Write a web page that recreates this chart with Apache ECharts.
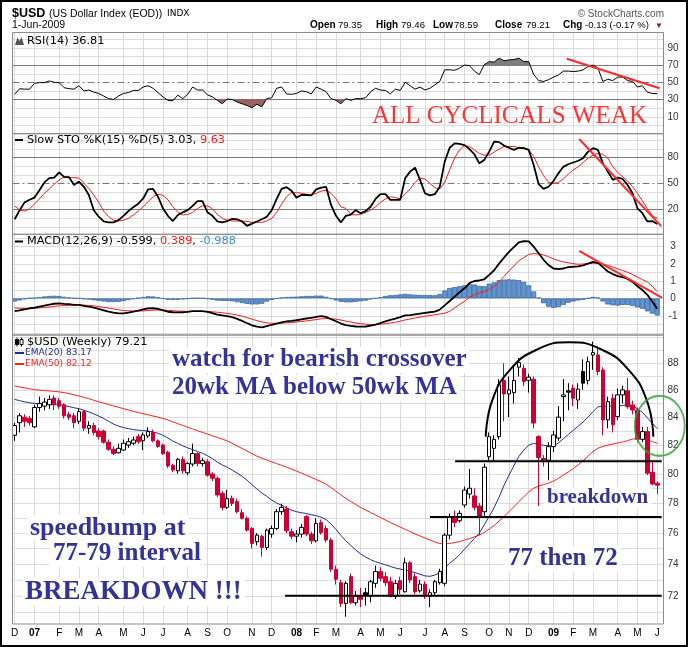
<!DOCTYPE html>
<html>
<head>
<meta charset="utf-8">
<title>$USD weekly</title>
<script src="https://cdn.jsdelivr.net/npm/echarts@6/dist/echarts.min.js"></script>
<style>
html, body { margin: 0; padding: 0; background: #fff; }
#chart { width: 688px; height: 647px; }
</style>
</head>
<body>
<div id="chart"></div>
<script>
// weekly bars: first is the week of 4-Dec-2006, last the week of 1-Jun-2009
var firstMonday = Date.UTC(2006, 11, 4);
var weekCount = 131;

var weekOpen = [
    82.70, 83.60, 84.00, 83.90, 83.30, 84.70, 84.80, 84.90, 85.40, 85.20,
    84.90, 84.20, 84.10, 83.70, 84.40, 83.20, 83.40, 83.00, 83.00, 82.20,
    81.70, 81.46, 81.65, 82.00, 82.13, 82.60, 82.31, 82.65, 82.90, 82.30,
    82.00, 81.50, 80.59, 80.20, 81.00, 80.06, 80.67, 81.40, 80.70, 80.83,
    79.98, 79.68, 78.65, 77.71, 78.32, 78.10, 77.35, 76.98, 76.31, 75.44,
    75.80, 75.07, 75.94, 76.31, 77.42, 77.60, 76.09, 75.80, 75.94, 77.09,
    75.94, 75.50, 76.70, 76.31, 75.55, 73.67, 72.82, 71.53, 73.20, 71.57,
    71.94, 72.19, 71.98, 72.78, 73.52, 73.20, 72.88, 71.98, 72.94, 72.25,
    74.08, 73.20, 72.31, 72.73, 71.98, 72.19, 72.82, 72.78, 75.87, 77.10,
    76.82, 77.87, 78.61, 78.48, 77.80, 77.42, 81.18, 81.77, 82.60, 86.71,
    85.70, 85.80, 87.70, 87.62, 86.71, 86.80, 82.60, 81.06, 80.94, 81.89,
    82.50, 85.50, 85.93, 86.13, 85.25, 87.37, 86.71, 88.63, 88.63, 87.49,
    83.80, 85.38, 84.04, 85.63, 85.93, 84.88, 84.52, 82.41, 82.96, 80.10,
    79.35
];
var weekClose = [
    83.40, 84.10, 83.70, 83.60, 84.70, 85.00, 85.10, 85.30, 84.90, 84.80,
    84.10, 84.00, 83.60, 84.40, 83.20, 83.40, 82.90, 82.60, 82.20, 81.70,
    81.40, 81.77, 82.13, 82.24, 82.36, 82.24, 82.72, 82.96, 82.30, 81.90,
    81.40, 80.53, 80.25, 81.00, 80.20, 80.70, 81.40, 80.70, 80.90, 79.90,
    79.68, 78.55, 77.70, 78.30, 77.98, 77.42, 76.98, 76.20, 75.33, 75.87,
    75.07, 76.20, 76.31, 77.42, 77.71, 76.16, 75.80, 75.94, 76.38, 75.94,
    75.50, 76.64, 76.03, 75.55, 73.67, 73.03, 71.53, 72.78, 71.57, 71.98,
    71.78, 72.04, 72.88, 73.52, 73.10, 72.82, 71.98, 72.78, 72.40, 74.08,
    72.99, 72.25, 72.73, 71.98, 72.19, 72.88, 73.52, 75.87, 77.09, 76.70,
    77.31, 78.88, 79.00, 77.71, 77.09, 80.45, 82.60, 82.41, 86.38, 85.70,
    86.00, 86.71, 88.05, 86.63, 86.95, 83.57, 81.13, 80.94, 81.89, 82.72,
    84.00, 85.63, 85.83, 85.38, 86.05, 86.50, 88.12, 88.81, 87.37, 83.80,
    85.13, 83.45, 85.63, 86.00, 84.76, 84.52, 82.41, 82.96, 80.03, 79.29,
    79.21
];
var weekLow = [
    82.30, 82.90, 83.30, 83.40, 83.20, 84.40, 84.50, 84.60, 84.50, 84.60,
    83.90, 83.80, 83.20, 83.50, 83.00, 82.80, 82.70, 82.40, 82.10, 81.60,
    81.30, 81.40, 81.60, 81.80, 82.00, 82.10, 81.65, 82.50, 82.20, 81.80,
    81.30, 80.40, 80.10, 80.00, 80.00, 79.90, 80.50, 80.50, 80.50, 79.80,
    79.50, 78.40, 77.50, 77.60, 77.80, 77.30, 76.90, 76.10, 75.00, 75.20,
    74.47, 74.90, 75.70, 76.20, 77.20, 76.00, 75.60, 75.40, 75.70, 75.80,
    75.30, 75.40, 75.90, 75.40, 73.50, 72.70, 71.30, 70.71, 71.50, 71.40,
    71.30, 71.40, 71.60, 72.50, 72.90, 72.60, 71.90, 71.80, 72.10, 72.20,
    72.80, 72.10, 72.20, 71.80, 71.30, 72.00, 72.70, 72.60, 75.60, 76.40,
    76.70, 77.70, 78.30, 77.50, 75.87, 77.00, 80.80, 80.83, 82.40, 83.70,
    84.00, 85.00, 87.00, 86.30, 85.80, 83.20, 77.80, 80.50, 79.55, 81.50,
    82.30, 83.70, 84.50, 84.80, 84.60, 86.00, 86.40, 87.50, 87.10, 82.70,
    83.20, 82.90, 83.80, 85.00, 84.60, 84.20, 82.20, 82.20, 79.90, 79.20,
    78.59
];
var weekHigh = [
    83.60, 84.30, 84.20, 84.10, 84.90, 85.50, 85.40, 85.60, 85.60, 85.40,
    85.00, 84.40, 84.30, 84.60, 84.50, 83.70, 83.60, 83.20, 83.10, 82.40,
    81.90, 82.10, 82.40, 82.50, 82.60, 82.80, 82.90, 83.27, 83.10, 82.40,
    82.10, 81.60, 80.70, 81.10, 81.20, 80.80, 82.10, 81.50, 81.10, 81.00,
    80.10, 79.80, 78.80, 78.90, 78.50, 78.30, 77.60, 77.10, 76.40, 76.00,
    75.90, 76.30, 76.50, 77.60, 77.95, 77.80, 76.30, 76.20, 76.60, 77.20,
    76.10, 76.98, 76.90, 76.50, 75.70, 73.90, 73.00, 72.90, 73.40, 72.30,
    72.50, 72.50, 73.00, 73.90, 73.80, 73.50, 73.20, 73.00, 73.20, 74.40,
    74.20, 73.40, 73.00, 72.90, 72.40, 73.00, 73.70, 76.00, 77.30, 77.50,
    77.50, 79.11, 80.33, 79.00, 78.00, 80.70, 82.90, 82.70, 86.80, 88.00,
    87.00, 87.80, 88.40, 87.90, 87.20, 87.00, 82.70, 81.30, 82.20, 83.00,
    84.80, 86.80, 86.50, 86.40, 86.50, 88.30, 88.50, 89.66, 89.30, 87.70,
    85.50, 85.70, 86.10, 86.30, 86.90, 85.20, 84.70, 83.30, 83.30, 80.83,
    79.46
];
// filled black bodies (down on the week's open but up on the prior close)
var blackCandles = [71, 112, 115];

var ema20 = [
    85.30, 85.20, 85.12, 85.05, 85.00, 84.98, 84.97, 84.96, 84.95, 84.92,
    84.85, 84.77, 84.68, 84.62, 84.50, 84.38, 84.24, 84.08, 83.90, 83.70,
    83.50, 83.35, 83.25, 83.17, 83.10, 83.06, 83.03, 83.00, 82.93, 82.84,
    82.70, 82.50, 82.28, 82.12, 81.95, 81.80, 81.68, 81.55, 81.42, 81.25,
    81.05, 80.80, 80.60, 80.45, 80.25, 80.05, 79.82, 79.55, 79.25, 78.95,
    78.68, 78.45, 78.20, 78.00, 77.85, 77.68, 77.52, 77.42, 77.35, 77.30,
    77.22, 77.15, 77.05, 76.90, 76.60, 76.25, 75.85, 75.50, 75.20, 74.90,
    74.65, 74.45, 74.28, 74.15, 74.05, 73.95, 73.85, 73.75, 73.68, 73.62,
    73.55, 73.45, 73.35, 73.25, 73.22, 73.30, 73.45, 73.75, 74.05, 74.30,
    74.60, 74.95, 75.30, 75.65, 76.00, 76.55, 77.10, 77.70, 78.40, 79.20,
    79.90, 80.55, 81.20, 81.65, 82.00, 82.12, 82.05, 81.98, 81.95, 81.95,
    82.15, 82.45, 82.75, 83.05, 83.35, 83.65, 84.00, 84.40, 84.75, 84.80,
    84.80, 84.80, 84.82, 84.85, 84.90, 84.85, 84.60, 84.35, 83.95, 83.55,
    83.17
];
var ema50 = [
    86.30, 86.22, 86.15, 86.08, 86.02, 85.98, 85.95, 85.92, 85.89, 85.85,
    85.80, 85.72, 85.63, 85.55, 85.45, 85.35, 85.23, 85.12, 85.02, 84.92,
    84.82, 84.72, 84.62, 84.52, 84.42, 84.34, 84.25, 84.17, 84.08, 84.00,
    83.90, 83.80, 83.66, 83.53, 83.40, 83.27, 83.15, 83.02, 82.90, 82.78,
    82.66, 82.54, 82.42, 82.30, 82.12, 81.94, 81.76, 81.58, 81.40, 81.22,
    81.08, 80.95, 80.82, 80.70, 80.58, 80.45, 80.32, 80.18, 80.04, 79.90,
    79.75, 79.60, 79.45, 79.28, 79.05, 78.80, 78.55, 78.32, 78.10, 77.90,
    77.70, 77.53, 77.36, 77.20, 77.03, 76.87, 76.70, 76.55, 76.40, 76.25,
    76.10, 75.95, 75.82, 75.68, 75.55, 75.42, 75.32, 75.30, 75.33, 75.38,
    75.45, 75.55, 75.65, 75.75, 75.87, 76.05, 76.28, 76.50, 76.80, 77.10,
    77.42, 77.75, 78.10, 78.43, 78.75, 79.00, 79.15, 79.25, 79.35, 79.50,
    79.68, 79.90, 80.12, 80.35, 80.62, 80.90, 81.22, 81.55, 81.78, 81.90,
    82.00, 82.07, 82.15, 82.22, 82.32, 82.42, 82.48, 82.45, 82.38, 82.25,
    82.12
];
var rsi14 = [
    36, 42.5, 42, 42, 48.8, 49.6, 49.6, 51.5, 50, 49.6,
    43.7, 42.5, 42, 46, 40, 41, 38.6, 37, 34, 31,
    30, 34, 37, 38, 40.5, 40.5, 44.5, 46, 43, 38,
    33, 29, 28.5, 35, 31, 36, 44.5, 41, 41, 35.5,
    33, 29, 25, 30.5, 30, 27, 25, 23, 20.5, 24.5,
    21.5, 31, 32, 43, 44.5, 36.5, 36, 37, 40, 39,
    36.5, 44.5, 42, 39, 31, 29, 25, 31, 29, 31,
    31, 32, 39, 43, 41, 40.5, 36.5, 42, 40.5, 50,
    46, 42, 44.5, 41, 43, 47, 51, 64.5, 64.5, 64,
    66.5, 70, 69.5, 63, 59, 70.5, 74, 73.5, 78, 75,
    76, 76.5, 78, 74, 74, 59, 52, 51, 53, 56,
    58.5, 63, 63, 62.5, 63, 64.5, 68.5, 70, 66.5, 51,
    53.5, 52, 56, 56, 52, 51, 44.5, 46, 38.5, 37,
    36.81
];
var stoK = [
    8.5, 19, 28, 31, 33.5, 42, 51, 56, 56.5, 62.5,
    57.5, 57, 48, 52, 46, 36.5, 19, 11.5, 6, 5,
    5, 7.5, 12.5, 18, 22.5, 26.5, 32.5, 43, 43.5, 34.5,
    21, 12.5, 6.5, 13.5, 16.5, 19, 24, 29.5, 29.5, 16.5,
    12.5, 6, 5, 6.5, 9, 8.5, 6, 1, 3.5, 6,
    8.5, 11.5, 19, 32, 43.5, 45.5, 41.5, 33.5, 36.5, 36.5,
    36, 43, 45, 46, 25, 12.5, 5, 12.5, 14, 19,
    15.5, 18, 23, 32, 37.5, 37.5, 31, 31, 31, 56,
    63.5, 68, 54, 38.5, 36, 37.5, 46, 75, 91, 96,
    95.5, 94, 89.5, 83.5, 73, 77, 86.5, 98, 97.5, 93.5,
    91, 88.5, 91, 90.5, 88.5, 71, 49, 43.5, 46, 52.5,
    61.5, 69, 72, 74, 76, 79, 86.5, 90.5, 88.5, 73,
    63.5, 54, 56.5, 55, 48, 38.5, 21, 15.5, 6, 6.5,
    3.03
];
var stoD = [
    24, 19, 18, 20.5, 26, 32, 38.5, 43.5, 49, 54,
    57.5, 56.5, 56.5, 56, 50, 44, 36.5, 28, 18, 11.5,
    7.5, 6.5, 7.5, 9.5, 13.5, 18, 23, 29, 34.5, 37.5,
    36, 31, 23, 16.5, 13.5, 14, 16.5, 21, 24, 24,
    20.5, 14, 9.5, 7.5, 6.5, 6.5, 6.5, 6, 5, 5,
    5, 6.5, 9.5, 16.5, 26, 34.5, 39.5, 39.5, 38.5, 37.5,
    36.5, 38.5, 41, 42, 38.5, 32, 23, 21, 14, 13.5,
    14, 16.5, 19, 23, 28, 32, 34.5, 33.5, 32, 37.5,
    43.5, 51, 56, 55, 50, 45, 43.5, 51, 65.5, 79,
    88.5, 93.5, 92.5, 88.5, 84.5, 82.5, 82.5, 86, 89.5, 92.5,
    92.5, 92.5, 91, 90.5, 88.5, 81, 69, 59, 51, 50,
    51, 55, 60.5, 65.5, 69, 74, 79, 82.5, 84.5, 83.5,
    79, 69, 62.5, 57.5, 52.5, 46, 38.5, 29.5, 21, 12.5,
    9.63
];
var macdLine = [
    -0.73, -0.69, -0.63, -0.57, -0.54, -0.48, -0.42, -0.36, -0.31, -0.29,
    -0.32, -0.34, -0.37, -0.38, -0.43, -0.48, -0.54, -0.61, -0.69, -0.77,
    -0.82, -0.86, -0.86, -0.82, -0.77, -0.71, -0.64, -0.58, -0.57, -0.61,
    -0.69, -0.77, -0.80, -0.81, -0.80, -0.78, -0.74, -0.73, -0.74, -0.78,
    -0.85, -0.93, -0.98, -1.02, -1.08, -1.18, -1.30, -1.43, -1.55, -1.63,
    -1.67, -1.60, -1.52, -1.45, -1.38, -1.33, -1.30, -1.26, -1.21, -1.16,
    -1.12, -1.06, -1.02, -1.07, -1.20, -1.32, -1.45, -1.54, -1.59, -1.62,
    -1.63, -1.62, -1.57, -1.51, -1.42, -1.32, -1.24, -1.17, -1.08, -0.98,
    -0.96, -0.92, -0.88, -0.84, -0.80, -0.76, -0.65, -0.40, -0.15, 0.10,
    0.35, 0.58, 0.88, 1.00, 1.03, 1.10, 1.35, 1.62, 2.00, 2.35,
    2.68, 2.95, 3.22, 3.30, 3.28, 2.98, 2.60, 2.22, 1.92, 1.72,
    1.68, 1.72, 1.80, 1.82, 1.84, 1.90, 2.00, 2.10, 2.05, 1.80,
    1.55, 1.40, 1.28, 1.22, 1.12, 0.95, 0.70, 0.48, 0.20, -0.18,
    -0.599
];
var macdSignal = [
    -0.55, -0.57, -0.58, -0.58, -0.57, -0.55, -0.53, -0.50, -0.46, -0.43,
    -0.41, -0.39, -0.38, -0.38, -0.39, -0.41, -0.43, -0.47, -0.51, -0.56,
    -0.61, -0.66, -0.70, -0.72, -0.73, -0.73, -0.72, -0.70, -0.68, -0.67,
    -0.67, -0.69, -0.71, -0.73, -0.74, -0.75, -0.75, -0.75, -0.75, -0.75,
    -0.77, -0.80, -0.83, -0.87, -0.91, -0.96, -1.03, -1.11, -1.20, -1.28,
    -1.36, -1.41, -1.43, -1.44, -1.43, -1.41, -1.39, -1.36, -1.33, -1.30,
    -1.26, -1.22, -1.18, -1.16, -1.17, -1.20, -1.25, -1.31, -1.36, -1.42,
    -1.46, -1.49, -1.51, -1.51, -1.49, -1.46, -1.42, -1.37, -1.31, -1.24,
    -1.19, -1.13, -1.08, -1.03, -0.99, -0.94, -0.90, -0.85, -0.75, -0.55,
    -0.35, -0.17, 0.06, 0.20, 0.31, 0.40, 0.50, 0.70, 0.95, 1.27,
    1.58, 1.87, 2.17, 2.35, 2.53, 2.58, 2.55, 2.50, 2.40, 2.27,
    2.18, 2.10, 2.05, 2.00, 1.96, 1.98, 2.00, 2.02, 2.01, 1.98,
    1.90, 1.80, 1.70, 1.60, 1.50, 1.38, 1.22, 1.08, 0.95, 0.70,
    0.389
];
var macdHist = [
    -0.18, -0.12, -0.05, 0.01, 0.03, 0.07, 0.11, 0.14, 0.15, 0.14,
    0.09, 0.05, 0.01, 0.00, -0.04, -0.07, -0.11, -0.14, -0.18, -0.21,
    -0.21, -0.20, -0.16, -0.10, -0.04, 0.02, 0.08, 0.12, 0.11, 0.06,
    -0.02, -0.08, -0.09, -0.08, -0.06, -0.03, 0.01, 0.02, 0.01, -0.03,
    -0.08, -0.13, -0.15, -0.15, -0.17, -0.22, -0.27, -0.32, -0.35, -0.35,
    -0.31, -0.19, -0.09, -0.01, 0.05, 0.08, 0.09, 0.10, 0.12, 0.14,
    0.14, 0.16, 0.16, 0.09, -0.03, -0.12, -0.20, -0.23, -0.23, -0.20,
    -0.17, -0.13, -0.06, 0.00, 0.07, 0.14, 0.18, 0.20, 0.23, 0.26,
    0.23, 0.21, 0.20, 0.19, 0.19, 0.18, 0.25, 0.45, 0.60, 0.65,
    0.70, 0.75, 0.82, 0.80, 0.72, 0.70, 0.85, 0.92, 1.05, 1.08,
    1.10, 1.08, 1.05, 0.95, 0.75, 0.40, 0.05, -0.28, -0.48, -0.55,
    -0.50, -0.38, -0.25, -0.18, -0.12, -0.08, 0.00, 0.08, 0.04, -0.18,
    -0.35, -0.40, -0.42, -0.38, -0.38, -0.43, -0.52, -0.60, -0.75, -0.88,
    -0.988
];

// horizontal levels per panel
var rsiLevels = [0, 10, 20, 30, 40, 50, 60, 70, 80, 90, 100];
var rsiLabels = [10, 30, 50, 70, 90];
var stoLevels = [0, 10, 20, 30, 40, 50, 60, 70, 80, 90, 100];
var stoLabels = [20, 50, 80];
var macdLevels = [-2, -1.5, -1, -0.5, 0, 0.5, 1, 1.5, 2, 2.5, 3, 3.5];
var macdLabels = [-1, 0, 1, 2, 3];
var priceLevels = [71, 72, 73, 74, 75, 76, 77, 78, 79, 80, 81, 82, 83, 84, 85, 86, 87, 88, 89, 90];
var priceLabels = [72, 74, 76, 78, 80, 82, 84, 86, 88];

// hand-drawn notes, in week index / value units
var supportLines = [[80.87, 89.1, 130.9], [77.06, 84.0, 130.9], [72.0, 54.7, 130.9]];
var topArc = [[95.3, 82.6], [96.6, 85.2], [100.2, 87.5], [105.7, 89.05], [112.2, 89.6],
              [118.7, 89.05], [124.2, 87.5], [127.9, 85.2], [129.2, 82.6]];
var crossCircle = [130.5, 83.37];
var rsiTrend = [[111.7, 77.4], [130.5, 43.0]];
var stoTrend = [[114.2, 101.1], [130.8, 0.7]];
var macdTrend = [[114.2, 2.74], [131.0, 0.03]];

// week categories (plus one empty slot at the right edge)
var slotCount = weekCount + 1;
var weeks = [];
var monthStart = [];
for (var i = 0; i < slotCount; i++) {
    var d = new Date(firstMonday + i * 7 * 86400000);
    weeks.push(d.toISOString().slice(0, 10));
    monthStart.push(i < weekCount && d.getUTCDate() <= 7);
}
var monthLetters = ['J', 'F', 'M', 'A', 'M', 'J', 'J', 'A', 'S', 'O', 'N', 'D'];

var frameLeft = 12.5, frameRight = 663.5;
var panels = [
    {top: 32.5, bottom: 133.7, min: -9.8, max: 107.9},
    {top: 133.7, bottom: 234.3, min: -8.8, max: 107.2},
    {top: 234.3, bottom: 335, min: -2.11, max: 3.69},
    {top: 335, bottom: 624, min: 70.27, max: 90.17}
];

var grids = panels.map(function (p) {
    return {left: 14.7, right: 688 - 662.2, top: p.top, height: p.bottom - p.top, show: false};
});

function catAxis(g) {
    return {
        type: 'category', gridIndex: g, data: weeks, boundaryGap: false,
        axisLine: {show: false}, axisTick: {show: false},
        splitLine: {
            show: true,
            interval: function (idx) { return monthStart[idx]; },
            lineStyle: {color: '#dadada', width: 1}
        },
        axisLabel: g === 3 ? {
            show: true,
            interval: function (idx) { return monthStart[idx]; },
            formatter: function (val) {
                var m = parseInt(val.slice(5, 7), 10) - 1;
                return m === 0 ? '{y|' + val.slice(2, 4) + '}' : monthLetters[m];
            },
            color: '#000', fontSize: 10, fontFamily: 'Liberation Sans', margin: 4,
            rich: {y: {fontWeight: 'bold', fontSize: 10, fontFamily: 'Liberation Sans', color: '#000'}}
        } : {show: false}
    };
}

var xAxes = [0, 1, 2, 3].map(catAxis).concat([0, 1, 2, 3].map(function (g) {
    return {type: 'value', gridIndex: g, min: 0, max: slotCount - 1, show: false};
}));

var yAxes = panels.map(function (p, g) {
    return {
        type: g === 3 ? 'log' : 'value', gridIndex: g, min: p.min, max: p.max,
        show: false, splitLine: {show: false}
    };
});

// gridlines and right-hand labels for one panel
function levelSeries(g, levels, labels, guides, dashLevel) {
    return {
        type: 'custom', xAxisIndex: 4 + g, yAxisIndex: g, z: 1, silent: true,
        data: levels.map(function (v) { return [0, v]; }),
        renderItem: function (params, api) {
            var v = api.value(1);
            var y = Math.round(api.coord([0, v])[1]) + 0.5;
            var stroke = '#dcdcdc', dash = null;
            if (guides.indexOf(v) >= 0) stroke = '#7a7a7a';
            if (v === dashLevel) { stroke = '#7a7a7a'; dash = [7, 3, 2, 3]; }
            var kids = [{
                type: 'line',
                shape: {x1: frameLeft, y1: y, x2: frameRight, y2: y},
                style: {stroke: stroke, lineWidth: 1, lineDash: dash}
            }];
            if (labels.indexOf(v) >= 0) {
                kids.push({
                    type: 'text', x: 673, y: y,
                    style: {text: String(v), fill: '#333', font: '10px "Liberation Sans"',
                            align: 'center', verticalAlign: 'middle'}
                });
            }
            return {type: 'group', children: kids};
        }
    };
}

function noteLine(g, pts, color, width, smooth) {
    return {
        type: 'line', xAxisIndex: 4 + g, yAxisIndex: g, data: pts, symbol: 'none',
        smooth: smooth || false, silent: true, z: 6,
        lineStyle: {color: color, width: width}
    };
}

var candleData = weekOpen.map(function (o, i) {
    var item = {value: [o, weekClose[i], weekLow[i], weekHigh[i]]};
    if (blackCandles.indexOf(i) >= 0) {
        item.itemStyle = {color: '#000', color0: '#000', borderColor: '#000', borderColor0: '#000'};
    }
    return item;
});

var series = [];
series.push(levelSeries(0, rsiLevels, rsiLabels, [30, 70], 50));
series.push(levelSeries(1, stoLevels, stoLabels, [20, 80], 50));
series.push(levelSeries(2, macdLevels, macdLabels, [], null));
series.push(levelSeries(3, priceLevels, priceLabels, [], null));

var rsiFillIndex = series.length;
series.push({
    type: 'line', xAxisIndex: 0, yAxisIndex: 0, data: rsi14, symbol: 'none', silent: true, z: 2,
    lineStyle: {width: 0, opacity: 0}, areaStyle: {origin: 50, opacity: 1}
});
series.push({
    type: 'line', xAxisIndex: 0, yAxisIndex: 0, data: rsi14, symbol: 'none', z: 4,
    lineStyle: {color: '#000', width: 1}
});
series.push(noteLine(0, rsiTrend, '#ff2a2a', 2));

series.push({
    type: 'line', xAxisIndex: 1, yAxisIndex: 1, data: stoD, symbol: 'none', z: 3,
    lineStyle: {color: '#ff1a1a', width: 1}
});
series.push({
    type: 'line', xAxisIndex: 1, yAxisIndex: 1, data: stoK, symbol: 'none', z: 4,
    lineStyle: {color: '#000', width: 1.8}
});
series.push(noteLine(1, stoTrend, '#ff2a2a', 2));

series.push({
    type: 'bar', xAxisIndex: 2, yAxisIndex: 2, data: macdHist, barWidth: 5, z: 2,
    itemStyle: {color: '#6494cf', borderColor: '#3a68a0', borderWidth: 0.8}
});
series.push({
    type: 'line', xAxisIndex: 2, yAxisIndex: 2, data: macdSignal, symbol: 'none', z: 3,
    lineStyle: {color: '#ff1a1a', width: 1}
});
series.push({
    type: 'line', xAxisIndex: 2, yAxisIndex: 2, data: macdLine, symbol: 'none', z: 4,
    lineStyle: {color: '#000', width: 1.8}
});
series.push(noteLine(2, macdTrend, '#ff2a2a', 2));

series.push({
    type: 'line', xAxisIndex: 3, yAxisIndex: 3, data: ema50, symbol: 'none', z: 2,
    lineStyle: {color: '#ff2020', width: 1}
});
series.push({
    type: 'line', xAxisIndex: 3, yAxisIndex: 3, data: ema20, symbol: 'none', z: 2,
    lineStyle: {color: '#1f2e96', width: 1}
});
series.push({
    type: 'candlestick', xAxisIndex: 3, yAxisIndex: 3, data: candleData, barWidth: 4, clip: false, z: 3,
    itemStyle: {color: '#fff', color0: '#cc0033', borderColor: '#000', borderColor0: '#cc0033', borderWidth: 1}
});
supportLines.forEach(function (s) {
    series.push(noteLine(3, [[s[1], s[0]], [s[2], s[0]]], '#000', 2));
});
series.push(noteLine(3, topArc, '#000', 2, 0.5));
series.push({
    type: 'scatter', xAxisIndex: 7, yAxisIndex: 3, data: [crossCircle], symbol: 'circle',
    symbolSize: [50, 60], clip: false, silent: true, z: 7,
    itemStyle: {color: 'rgba(0,0,0,0)', borderColor: '#35a035', borderWidth: 2}
});

// texts and frames
var sans = '"Liberation Sans", Arial, sans-serif';
var dv = '"DejaVu Sans", Verdana, sans-serif';
var serif = '"Liberation Serif", "Times New Roman", serif';
function txt(x, y, text, font, fill, align) {
    return {type: 'text', x: x, y: y, z: 50,
            style: {text: text, font: font, fill: fill || '#000', align: align || 'left', verticalAlign: 'middle'}};
}
// note written on a white patch: above the gridlines, under the price marks
function note(x, y, text, size) {
    return {type: 'text', x: x, y: y, z: 2.5,
            style: {text: text, font: 'bold ' + size + 'px ' + serif, fill: '#333399',
                    align: 'left', verticalAlign: 'middle', backgroundColor: '#fff', padding: [1, 3, 0, 3]}};
}
var graphics = [];
panels.forEach(function (p) {
    graphics.push({type: 'rect', z: 40, shape: {x: frameLeft, y: p.top, width: frameRight - frameLeft, height: p.bottom - p.top},
                   style: {fill: null, stroke: '#8c8c8c', lineWidth: 1}});
});
graphics.push({type: 'rect', z: 60, shape: {x: 1, y: 1, width: 686, height: 645},
               style: {fill: null, stroke: '#000', lineWidth: 2}});

graphics.push(txt(12, 14, '$USD', 'bold 12.5px ' + sans));
graphics.push(txt(49, 14, '(US Dollar Index (EOD))', '10.5px ' + sans));
graphics.push(txt(167, 14, 'INDX', '9px ' + dv));
graphics.push(txt(664, 14, '\u00a9 StockCharts.com', '10px ' + sans, '#555', 'right'));
graphics.push(txt(12, 25.5, '1-Jun-2009', '10.5px ' + sans));
[['Open', 310, true], ['79.35', 338], ['High', 376, true], ['79.46', 401], ['Low', 433, true],
 ['78.59', 454], ['Close', 495, true], ['79.21', 526], ['Chg', 563, true], ['-0.13 (-0.17 %)', 585]]
    .forEach(function (q) {
        graphics.push(txt(q[1], 25.5, q[0], q[2] ? 'bold 10px ' + sans : '9.6px ' + sans));
    });
graphics.push(txt(655, 25.5, '\u25bc', '8px ' + sans, '#8b1538'));

// panel headers
graphics.push({type: 'polygon', z: 50, shape: {points: [[15, 45], [17.5, 37.5], [19.5, 41], [21.5, 37], [24, 45]]},
               style: {fill: '#555'}});
graphics.push(txt(27, 41, 'RSI(14) 36.81', '11.3px ' + dv));
graphics.push({type: 'line', z: 50, shape: {x1: 15, y1: 140, x2: 23, y2: 140}, style: {stroke: '#000', lineWidth: 2}});
graphics.push({type: 'text', x: 27, y: 140, z: 50, style: {
    text: '{k|Slow STO %K(15) %D(5) 3.03, }{r|9.63}', verticalAlign: 'middle',
    rich: {k: {font: '11.3px ' + dv, fill: '#000'}, r: {font: '11.3px ' + dv, fill: '#ff1a1a'}}}});
graphics.push({type: 'line', z: 50, shape: {x1: 15, y1: 241.5, x2: 23, y2: 241.5}, style: {stroke: '#000', lineWidth: 2}});
graphics.push({type: 'text', x: 27, y: 241.5, z: 50, style: {
    text: '{k|MACD(12,26,9) -0.599, }{r|0.389}{k|, }{b|-0.988}', verticalAlign: 'middle',
    rich: {k: {font: '11.3px ' + dv, fill: '#000'}, r: {font: '11.3px ' + dv, fill: '#ff1a1a'},
           b: {font: '11.3px ' + dv, fill: '#3a8fcc'}}}});
graphics.push({type: 'line', z: 50, shape: {x1: 17, y1: 337.5, x2: 17, y2: 346.5}, style: {stroke: '#000', lineWidth: 1}});
graphics.push({type: 'rect', z: 51, shape: {x: 15.5, y: 339.5, width: 3, height: 5}, style: {fill: '#000', stroke: '#000', lineWidth: 1}});
graphics.push({type: 'line', z: 50, shape: {x1: 21.5, y1: 337.5, x2: 21.5, y2: 346.5}, style: {stroke: '#000', lineWidth: 1}});
graphics.push({type: 'rect', z: 51, shape: {x: 20, y: 339.5, width: 3, height: 5}, style: {fill: '#fff', stroke: '#000', lineWidth: 1}});
graphics.push(txt(27, 342, '$USD (Weekly) 79.21', '11.3px ' + dv));
graphics.push({type: 'line', z: 50, shape: {x1: 15, y1: 353, x2: 24, y2: 353}, style: {stroke: '#1f2e96', lineWidth: 2}});
graphics.push(txt(25, 353, 'EMA(20) 83.17', '9px ' + dv, '#1f2e96'));
graphics.push({type: 'line', z: 50, shape: {x1: 15, y1: 364, x2: 24, y2: 364}, style: {stroke: '#ff2020', lineWidth: 2}});
graphics.push(txt(25, 364, 'EMA(50) 82.12', '9px ' + dv, '#ff2020'));

// commentary written on the chart
graphics.push(txt(372, 116, 'ALL CYCLICALS WEAK', '25px ' + serif, '#ff3333'));
graphics.push(note(169, 360, 'watch for bearish crossover', 25));
graphics.push(note(169, 388, '20wk MA below 50wk MA', 25));
graphics.push(note(27, 528, 'speedbump at', 26));
graphics.push(note(50, 554, '77-79 interval', 25));
graphics.push(note(22, 592, 'BREAKDOWN !!!', 27));
graphics.push(note(544, 498, 'breakdown', 21));
graphics.push(note(505, 559, '77 then 72', 25));

var chart = echarts.init(document.getElementById('chart'));
chart.setOption({
    animation: false,
    backgroundColor: '#fff',
    grid: grids,
    xAxis: xAxes,
    yAxis: yAxes,
    visualMap: {
        type: 'piecewise', show: false, seriesIndex: rsiFillIndex, dimension: 1,
        pieces: [
            {gt: 70, color: '#7d7d7d'},
            {gte: 30, lte: 70, color: 'rgba(255,255,255,0)'},
            {lt: 30, color: '#9a6262'}
        ]
    },
    series: series,
    graphic: graphics
});
</script>
</body>
</html>
